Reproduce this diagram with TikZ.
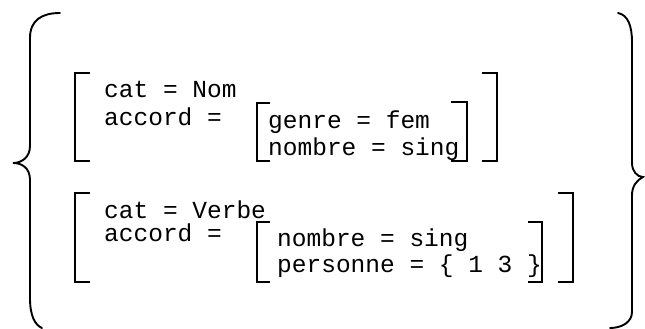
\documentclass[tikz,border=0pt]{standalone}
\usepackage{fontspec}
\setmonofont{Liberation Mono}
\begin{document}
\begin{tikzpicture}[x=1pt,y=-1pt,
  txt/.style={anchor=base west,inner sep=0pt,font=\ttfamily\fontsize{24.5}{29}\selectfont},
  brk/.style={line width=2.2pt,line cap=butt,line join=miter},
  brace/.style={line width=1.9pt,line cap=round}]
\useasboundingbox (0,0) rectangle (645,329);
% braces
\draw[brace] (60,13) .. controls (42,13) and (30,20) .. (30,38) -- (30,146)
  .. controls (30,157) and (22,163) .. (13,163)
  .. controls (22,163) and (30,168) .. (30,180) -- (30,298)
  .. controls (30,316) and (35,325) .. (42,328);
\draw[brace] (618,13) .. controls (628,15) and (632,26) .. (632,42) -- (632,163)
  .. controls (632,171) and (637,177) .. (643,177)
  .. controls (637,180) and (632,186) .. (632,195) -- (632,312)
  .. controls (632,322) and (622,328) .. (610,328);
% box 1
\draw[brk] (90,73) -- (75,73) -- (75,161) -- (90,161);
\draw[brk] (270,103) -- (257,103) -- (257,161) -- (270,161);
\draw[brk] (451,102) -- (467,102) -- (467,161) -- (451,161);
\draw[brk] (482,73) -- (497,73) -- (497,161) -- (482,161);
\node[txt] (cat1) at (104,97) {cat = Nom};
\node[txt] (acc1) at (104,125) {accord =};
\node[txt] (gen1) at (268,128) {genre = fem};
\node[txt] (nom1) at (268,155) {nombre = sing};
% box 2
\draw[brk] (90,193) -- (75,193) -- (75,282) -- (90,282);
\draw[brk] (270,222) -- (257,222) -- (257,282) -- (270,282);
\draw[brk] (528,222) -- (542,222) -- (542,282) -- (528,282);
\draw[brk] (558,193) -- (573,193) -- (573,282) -- (558,282);
\node[txt] (cat2) at (104,218) {cat = Verbe};
\node[txt] (acc2) at (104,241) {accord =};
\node[txt] (nom2) at (277,246) {nombre = sing};
\node[txt] (per2) at (277,272) {personne = \{ 1 3 \}};
\end{tikzpicture}
\end{document}
